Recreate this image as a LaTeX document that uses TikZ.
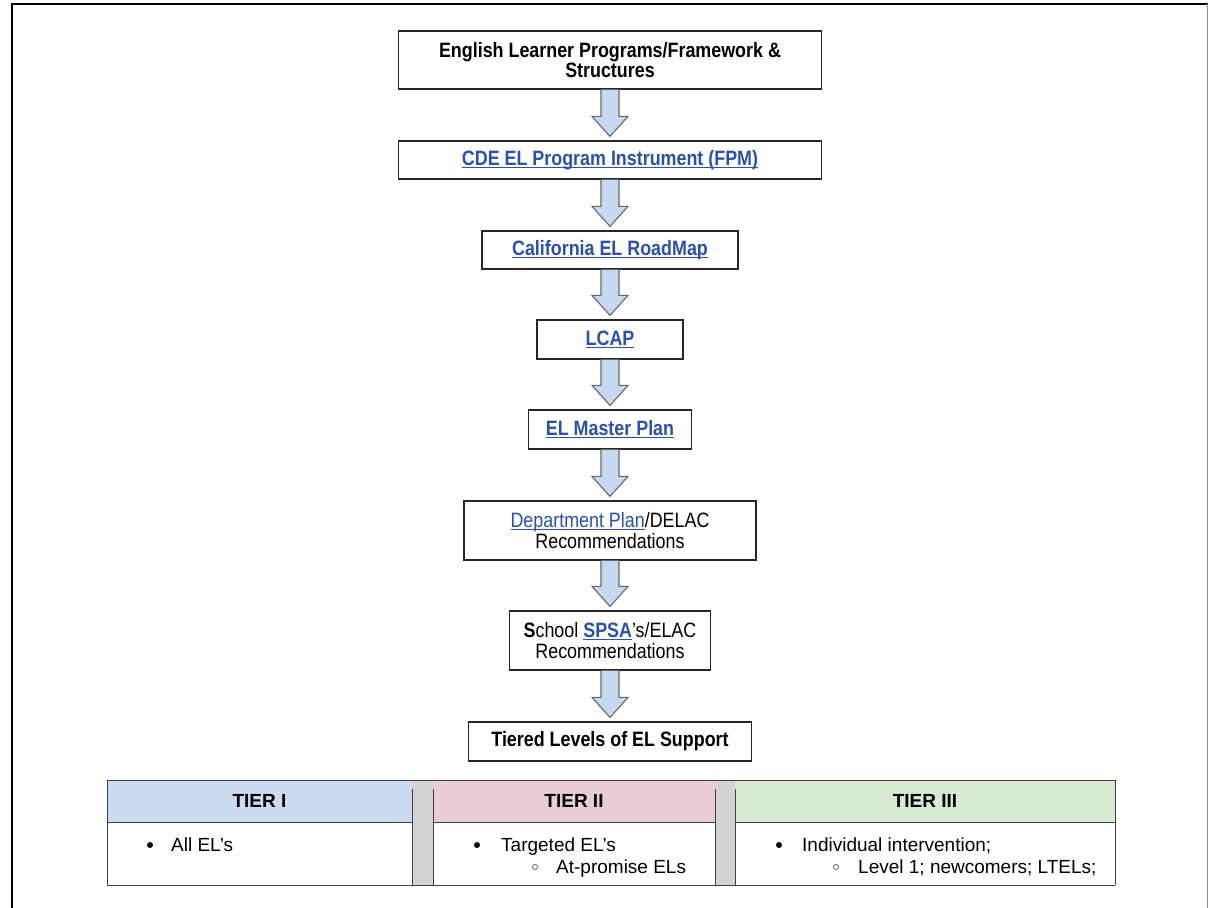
\documentclass[tikz,border=0pt]{standalone}
\usepackage{fontspec}
\setmainfont{Liberation Sans}
\newfontfamily\boxfamily{Liberation Sans}[FakeStretch=0.86]
\usetikzlibrary{calc}
\usetikzlibrary{arrows.meta}

\definecolor{linkblue}{HTML}{2A52A8}
\definecolor{arrowfill}{HTML}{C6D9F0}
\definecolor{tierblue}{HTML}{CBDCF0}
\definecolor{tierpink}{HTML}{E8CDD7}
\definecolor{tiergreen}{HTML}{D9EAD3}
\definecolor{gapgray}{HTML}{D3D3D3}

\newsavebox{\lnkbox}
\newcommand{\lnk}[1]{\sbox{\lnkbox}{\color{linkblue}#1}%
  \textcolor{linkblue}{\rlap{\rule[-2.8pt]{\wd\lnkbox}{1.5pt}}}\usebox{\lnkbox}}
\newcommand{\boxfont}{\boxfamily\fontsize{20.8}{20.5}\selectfont}
\newcommand{\tierfont}{\fontsize{19}{22}\selectfont}

% block arrow from one box down to the next
\newcommand{\flowarrow}[2]{%
  \filldraw[fill=arrowfill, draw=black!60, line width=1.1pt, line join=miter]
    let \p1=(#1.south), \p2=(#2.north) in
    (\x1-9pt,\y1) -- (\x1-9pt,\y2+24pt) -- (\x1-18pt,\y2+24pt) -- (\x1,\y2+4pt)
    -- (\x1+18pt,\y2+24pt) -- (\x1+9pt,\y2+24pt) -- (\x1+9pt,\y1);}

\begin{document}
\begin{tikzpicture}[x=1pt,y=-1pt,
    box/.style={draw=black!85, line width=1.2pt, fill=white, align=center,
      inner sep=0pt, font=\boxfont},
    tableline/.style={draw=black!75, line width=1pt},
    tierhead/.style={font=\tierfont\bfseries},
    tiertext/.style={anchor=base west, inner sep=0pt, font=\tierfont}]
    \useasboundingbox (0,0) rectangle (1208,908);
    % page frame
    \draw [line width =2.6pt] (12,912) -- (12,4) -- (1210,4);
    \draw [black!45, line width =1pt] (1207,4) -- (1207,912);

    \node[box, minimum width=423pt, minimum height=58pt, font=\boxfont\bfseries] (framework) at (610,60)
      {English Learner Programs/Framework \&\\Structures};
    \node[box, minimum width=423pt, minimum height=38pt, font=\boxfont\bfseries] (fpm) at (610,160)
      {\lnk{CDE EL Program Instrument (FPM)}};
    \node[box, minimum width=256pt, minimum height=38pt, font=\boxfont\bfseries] (roadmap) at (610,250)
      {\lnk{California EL RoadMap}};
    \node[box, minimum width=146pt, minimum height=39pt, font=\boxfont\bfseries] (lcap) at (610,339.5)
      {\lnk{LCAP}};
    \node[box, minimum width=163pt, minimum height=39pt, font=\boxfont\bfseries] (master) at (610,429.5)
      {\lnk{EL Master Plan}};
    \node[box, minimum width=292pt, minimum height=59pt] (dept) at (610,530.5)
      {\lnk{Department Plan}/DELAC\\Recommendations};
    \node[box, minimum width=201pt, minimum height=59pt] (school) at (610,640.5)
      {\textbf{S}chool \textbf{\lnk{SPSA}}’s/ELAC\\Recommendations};
    \node[box, minimum width=283pt, minimum height=39pt, font=\boxfont\bfseries] (tiered) at (610,741.5)
      {Tiered Levels of EL Support};

    \flowarrow{framework}{fpm}
    \flowarrow{fpm}{roadmap}
    \flowarrow{roadmap}{lcap}
    \flowarrow{lcap}{master}
    \flowarrow{master}{dept}
    \flowarrow{dept}{school}
    \flowarrow{school}{tiered}

    % tier table
    \fill[tierblue] (107,780) rectangle (412,822);
    \fill[tierpink] (433,780) rectangle (715,822);
    \fill[tiergreen] (735,780) rectangle (1115,822);
    \fill[gapgray] (412,780) rectangle (433,885);
    \fill[gapgray] (715,780) rectangle (735,885);
    \draw[tableline] (107,780) -- (1115,780);
    \draw[tableline] (107,885) -- (1115,885);
    \foreach \a/\b in {107/412, 433/715, 735/1115}
      \draw[tableline] (\a,822) -- (\b,822);
    \foreach \x in {107,1115}
      \draw[tableline] (\x,780) -- (\x,885);
    \foreach \x in {412,433,715,735}
      \draw[tableline] (\x,789) -- (\x,885);

    \node[tierhead] (headone) at (259.5,801) {TIER I};
    \node[tierhead] (headtwo) at (574,801) {TIER II};
    \node[tierhead] (headthree) at (925,801) {TIER III};

    \fill (150,845) circle (3pt);
    \node[tiertext] (allels) at (171,851) {All EL’s};
    \fill (477,845) circle (3pt);
    \node[tiertext] (targeted) at (501,851) {Targeted EL’s};
    \draw[black!60, line width=0.8pt] (535,867) circle (2.6pt);
    \node[tiertext] (atpromise) at (556,873) {At-promise ELs};
    \fill (779,845) circle (3pt);
    \node[tiertext] (individual) at (802,851) {Individual intervention;};
    \draw[black!60, line width=0.8pt] (836,867) circle (2.6pt);
    \node[tiertext] (levelone) at (858,873) {Level 1; newcomers; LTELs;};
\end{tikzpicture}
\end{document}
